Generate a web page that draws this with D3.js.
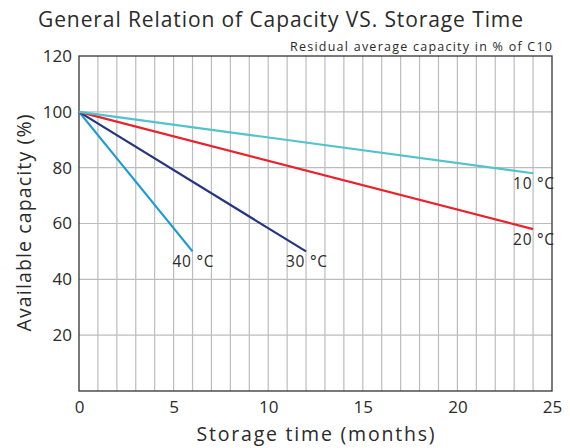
<!DOCTYPE html>
<html>
<head>
<meta charset="utf-8">
<script src="https://cdn.jsdelivr.net/npm/d3@7"></script>
<style>
  body { margin: 0; background: #fff; }
  text { font-family: "Open Sans", Lato, sans-serif; fill: #2a2a2a; }
</style>
</head>
<body>
<div id="chart"></div>
<script>
// data
var series = ["40 °C", "30 °C", "20 °C", "10 °C"];
var seriesX = [[0, 6], [0, 12], [0, 24], [0, 24]];
var seriesY = [[100, 50], [100, 50], [100, 58], [100, 78]];
var colors = ["#1b9ad6", "#263582", "#e8232c", "#52c2cc"];
var xTicks = [0, 5, 10, 15, 20, 25];
var yTicks = [20, 40, 60, 80, 100, 120];

function init(){
    var w = 570;
    var h = 448;
    var margin = {top: 56, right: 18, bottom: 57, left: 79};

    var xScale = d3.scaleLinear()
                    .domain([0, 25])
                    .range([margin.left, w - margin.right]);
    var yScale = d3.scaleLinear()
                    .domain([0, 120])
                    .range([h - margin.bottom, margin.top]);

    var svg = d3.select("#chart")
                .append("svg")
                .attr("width", w)
                .attr("height", h);

    // vertical grid, every month
    svg.append("g")
        .selectAll("line")
        .data(d3.range(1, 25))
        .enter()
        .append("line")
        .attr("x1", function(d){ return xScale(d); })
        .attr("x2", function(d){ return xScale(d); })
        .attr("y1", yScale(0))
        .attr("y2", yScale(120))
        .attr("stroke", "#bcbcbc")
        .attr("stroke-width", 1.2);

    // horizontal grid
    svg.append("g")
        .selectAll("line")
        .data([20, 40, 60, 80, 100])
        .enter()
        .append("line")
        .attr("x1", xScale(0))
        .attr("x2", xScale(25))
        .attr("y1", function(d){ return yScale(d); })
        .attr("y2", function(d){ return yScale(d); })
        .attr("stroke", "#bcbcbc")
        .attr("stroke-width", 1.2);

    // frame
    svg.append("rect")
        .attr("x", xScale(0))
        .attr("y", yScale(120))
        .attr("width", xScale(25) - xScale(0))
        .attr("height", yScale(0) - yScale(120))
        .attr("fill", "none")
        .attr("stroke", "#333")
        .attr("stroke-width", 1.3);

    // axes (labels only)
    var xAxis = d3.axisBottom(xScale).tickValues(xTicks).tickSize(0).tickPadding(10);
    var gx = svg.append("g")
        .attr("transform", "translate(0," + yScale(0) + ")")
        .call(xAxis);
    gx.select(".domain").remove();
    gx.selectAll("text").style("font-size", "17px").style("font-family", "'Open Sans'").attr("fill", "#2a2a2a");

    var yAxis = d3.axisLeft(yScale).tickValues(yTicks).tickSize(0).tickPadding(7);
    var gy = svg.append("g")
        .attr("transform", "translate(" + xScale(0) + ",0)")
        .call(yAxis);
    gy.select(".domain").remove();
    gy.selectAll("text").style("font-size", "17px").style("font-family", "'Open Sans'").attr("fill", "#2a2a2a");

    // lines
    var line = d3.line()
        .x(function(d){ return xScale(d[0]); })
        .y(function(d){ return yScale(d[1]); });

    series.forEach(function(name, i){
        var pts = seriesX[i].map(function(x, j){ return [x, seriesY[i][j]]; });
        svg.append("path")
            .datum(pts)
            .attr("d", line)
            .attr("fill", "none")
            .attr("stroke", colors[i])
            .attr("stroke-width", 2.2);

        var last = pts[pts.length - 1];
        svg.append("text")
            .attr("x", xScale(last[0]) - 20)
            .attr("y", yScale(last[1]) + 16)
            .style("font-size", "15.5px")
            .attr("textLength", 41)
            .attr("lengthAdjust", "spacing")
            .text(name);
    });

    // titles
    svg.append("text")
        .attr("x", 38)
        .attr("y", 27)
        .style("font-size", "21px")
        .attr("textLength", 485)
        .attr("lengthAdjust", "spacing")
        .text("General Relation of Capacity VS. Storage Time");

    svg.append("text")
        .attr("x", xScale(25) - 262)
        .attr("y", 51)
        .style("font-size", "12.5px")
        .attr("textLength", 262)
        .attr("lengthAdjust", "spacing")
        .text("Residual average capacity in % of C10");

    svg.append("text")
        .attr("x", (xScale(0) + xScale(25)) / 2 - 119)
        .attr("y", 441)
        .style("font-size", "19.5px")
        .attr("textLength", 238)
        .attr("lengthAdjust", "spacing")
        .text("Storage time (months)");

    svg.append("text")
        .attr("transform", "translate(31," + (yScale(60) + 108) + ") rotate(-90)")
        .style("font-size", "19.5px")
        .attr("textLength", 217)
        .attr("lengthAdjust", "spacing")
        .text("Available capacity (%)");
}
window.onload = init;
</script>
</body>
</html>
